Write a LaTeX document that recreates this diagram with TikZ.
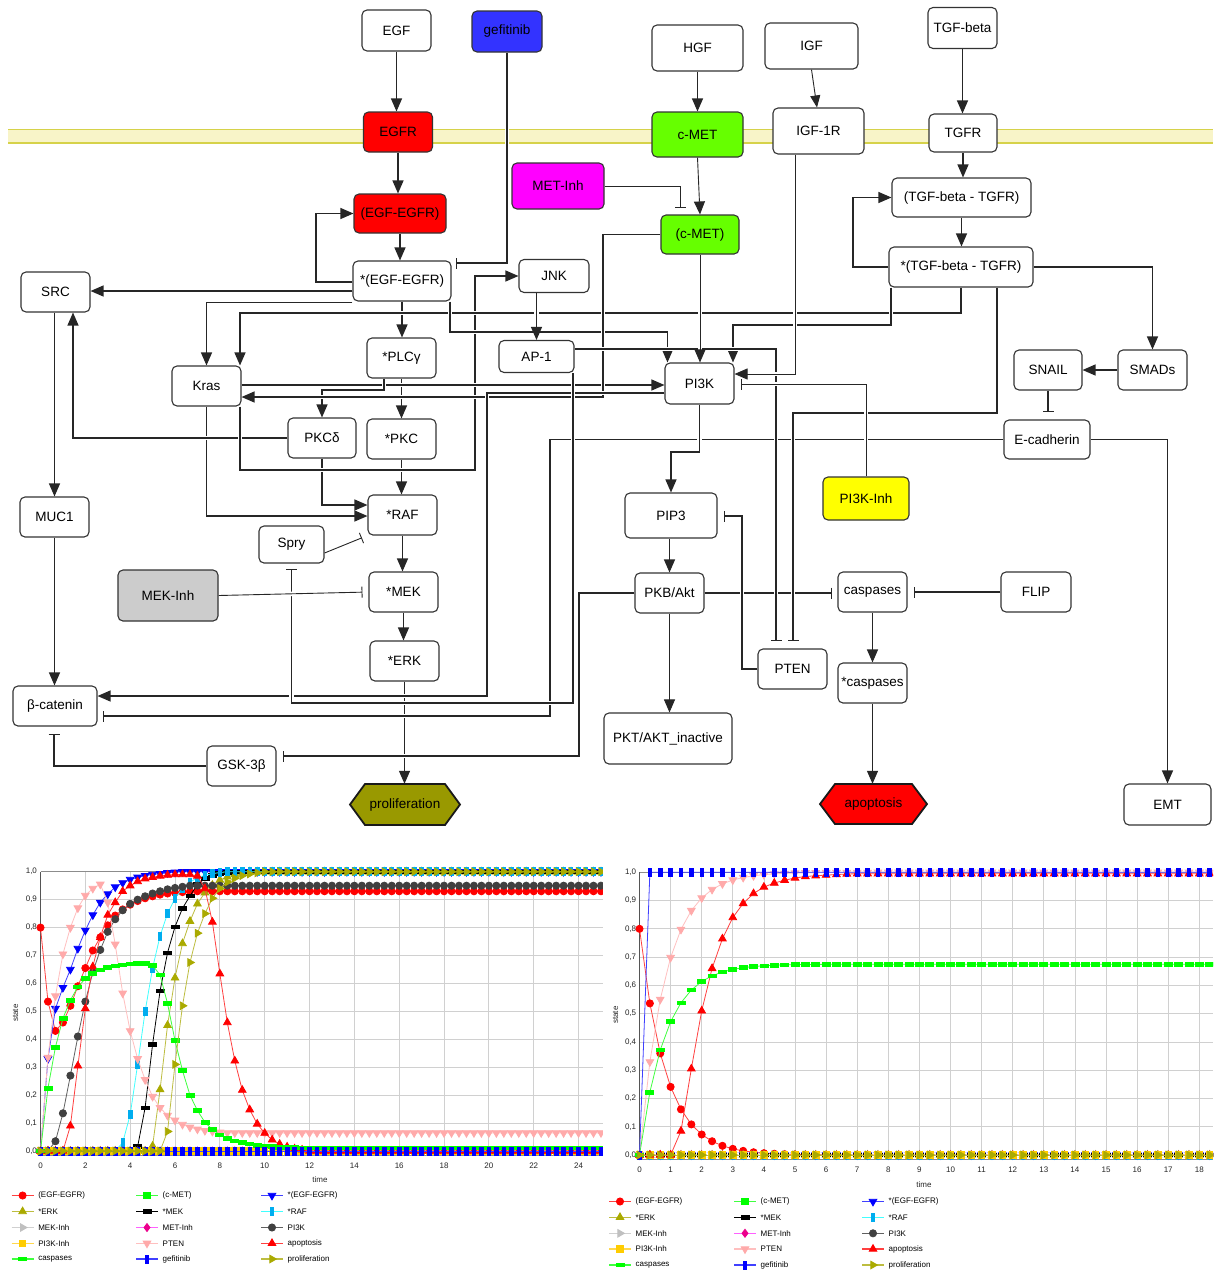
\documentclass[tikz,border=0pt]{standalone}
\usepackage{fontspec}
\setmainfont{Liberation Sans}
\usetikzlibrary{arrows.meta,calc,plotmarks}
\pgfdeclarelayer{bg}
\pgfdeclarelayer{edges}
\pgfsetlayers{bg,edges,main}

% flat and upright bar marks for the time-course plots
\pgfdeclareplotmark{hrect}{\pgfpathrectangle{\pgfqpoint{-4pt}{-1.8pt}}{\pgfqpoint{8pt}{3.6pt}}\pgfusepathqfillstroke}
\pgfdeclareplotmark{vrect}{\pgfpathrectangle{\pgfqpoint{-1.8pt}{-4pt}}{\pgfqpoint{3.6pt}{8pt}}\pgfusepathqfillstroke}

\definecolor{edgec}{HTML}{262626}
\definecolor{ndline}{HTML}{333333}
\definecolor{gefblue}{HTML}{3333FF}
\definecolor{egfred}{HTML}{FF0000}
\definecolor{metmag}{HTML}{FF00FF}
\definecolor{metgreen}{HTML}{66FF00}
\definecolor{mekgray}{HTML}{CCCCCC}
\definecolor{pikyel}{HTML}{FFFF00}
\definecolor{prolol}{HTML}{999900}
\definecolor{bandfill}{HTML}{F8F4C8}
\definecolor{bandline}{HTML}{D6D24A}
\definecolor{gridc}{HTML}{D0D0D0}
\definecolor{framec}{HTML}{8C8C8C}
\definecolor{axisc}{HTML}{555555}
\definecolor{lnred}{HTML}{FF4040}
\definecolor{lngreen}{HTML}{40FF40}
\definecolor{lnblue}{HTML}{4040FF}
\definecolor{lnolive}{HTML}{BDBD40}
\definecolor{lncyan}{HTML}{40FFFF}
\definecolor{lngray}{HTML}{D0D0D0}
\definecolor{lnmag}{HTML}{FF60FF}
\definecolor{lndgray}{HTML}{606060}
\definecolor{lnyel}{HTML}{FFD84D}
\definecolor{lnpink}{HTML}{FFBFBF}
\definecolor{mkolive}{HTML}{AAAA00}
\definecolor{mkgray}{HTML}{C0C0C0}
\definecolor{mkdgray}{HTML}{404040}
\definecolor{mkyel}{HTML}{FFCC00}
\definecolor{mkpink}{HTML}{FFAAAA}

\newcommand{\nodefont}{\fontsize{13.5}{15}\selectfont}
\newcommand{\tickfont}{\fontsize{8}{9}\selectfont}
\newcommand{\legfont}{\fontsize{8}{9}\selectfont}

\tikzset{
  nd/.style={draw=ndline, line width=1.1pt, rounded corners=5pt, fill=white, inner sep=0pt},
  hexa/.style={draw=black!90, line width=1.8pt},
  halo/.style={preaction={draw=white, line width=4.5pt, arrows=-}},
  arr/.style={draw=edgec, line width=1.2pt, halo, -{Triangle[length=13pt,width=11pt]}},
  thinarr/.style={arr, line width=0.9pt},
  inh/.style={draw=edgec, line width=1.2pt, halo, -{Bar[width=11pt]}, shorten >=5pt},
  thininh/.style={inh, line width=0.9pt},
  tick/.style={font=\tickfont, inner sep=0pt, text=black!85},
  ser/.style={line width=0.8pt, mark size=3.6pt},
  pEE/.style={ser, draw=lnred, mark=*, mark options={fill=red, draw=red}},
  pCMET/.style={ser, draw=lngreen, mark=square*, mark size=3.2pt, mark options={fill=green, draw=green}},
  pSEE/.style={ser, draw=lnblue, mark=triangle*, mark size=4.4pt, mark options={fill=blue, draw=blue, rotate=180}},
  pERK/.style={ser, draw=lnolive, mark=triangle*, mark size=4.4pt, mark options={fill=mkolive, draw=mkolive}},
  pMEK/.style={ser, draw=black, mark=hrect, mark options={fill=black, draw=black}},
  pRAF/.style={ser, draw=lncyan, mark=vrect, mark options={fill=cyan, draw=cyan}},
  pMEKI/.style={ser, draw=lngray, mark=triangle*, mark size=4.4pt, mark options={fill=mkgray, draw=mkgray, rotate=-90}},
  pMETI/.style={ser, draw=lnmag, mark=diamond*, mark size=4pt, mark options={fill=magenta, draw=magenta}},
  pPI3K/.style={ser, draw=lndgray, mark=*, mark options={fill=mkdgray, draw=mkdgray}},
  pPI3KI/.style={ser, draw=lnyel, mark=square*, mark size=3.2pt, mark options={fill=mkyel, draw=mkyel}},
  pPTEN/.style={ser, draw=lnpink, mark=triangle*, mark size=4.4pt, mark options={fill=mkpink, draw=mkpink, rotate=180}},
  pAPO/.style={ser, draw=lnred, mark=triangle*, mark size=4.4pt, mark options={fill=red, draw=red}},
  pCASP/.style={ser, draw=lngreen, mark=hrect, mark options={fill=green, draw=green}},
  pGEF/.style={ser, draw=lnblue, mark=vrect, mark options={fill=blue, draw=blue}},
  pPROL/.style={ser, draw=lnolive, mark=triangle*, mark size=4.4pt, mark options={fill=mkolive, draw=mkolive, rotate=-90}},
}

% one legend entry: x, y, series style, label, node name
\newcommand{\lgitem}[5]{%
  \draw[#3, line width=1.3pt] (#1-11,#2) -- (#1+11,#2);
  \draw[#3] plot[only marks] coordinates {(#1,#2)};
  \node[anchor=west, inner sep=0pt, font=\legfont] (#5) at (#1+15.5,#2) {#4};
}

\begin{document}
\begin{tikzpicture}[x=1pt, y=-1pt, font=\nodefont]
\useasboundingbox (0,0) rectangle (1215,1270);

\begin{pgfonlayer}{bg}
  \fill[white] (0,0) rectangle (1215,1270);
  % cell membrane
  \fill[bandfill] (8,129.5) rectangle (1213,143);
  \draw[bandline, line width=1.6pt] (8,129.5) -- (1213,129.5) (8,143) -- (1213,143);
\end{pgfonlayer}

% ---------------- network nodes ----------------
\node[nd, minimum width=69pt, minimum height=41pt] (egf) at (396.5,30.5) {EGF};
\node[nd, fill=gefblue, minimum width=70pt, minimum height=41pt] (gef) at (507,31.5) {gefitinib};
\node[nd, fill=egfred, minimum width=69pt, minimum height=40pt] (egfr) at (398,132) {EGFR};
\node[nd, fill=egfred, minimum width=92pt, minimum height=39pt] (ee) at (400,213.5) {(EGF-EGFR)};
\node[nd, minimum width=98pt, minimum height=40pt] (see) at (402,281) {*(EGF-EGFR)};
\node[nd, minimum width=69pt, minimum height=40pt] (src) at (55.5,292) {SRC};
\node[nd, minimum width=70pt, minimum height=33pt] (jnk) at (554,276) {JNK};
\node[nd, fill=metmag, minimum width=92pt, minimum height=46pt] (metinh) at (558,186) {MET-Inh};
\node[nd, minimum width=91pt, minimum height=46pt] (hgf) at (697.5,48) {HGF};
\node[nd, fill=metgreen, minimum width=91pt, minimum height=45pt] (cmet) at (697.5,134.5) {c-MET};
\node[nd, fill=metgreen, minimum width=78pt, minimum height=39pt] (cmet2) at (700,234.5) {(c-MET)};
\node[nd, minimum width=93pt, minimum height=46pt] (igf) at (811.5,46) {IGF};
\node[nd, minimum width=91pt, minimum height=46pt] (igf1r) at (818.5,131) {IGF-1R};
\node[nd, minimum width=69pt, minimum height=41pt] (tgfb) at (962.5,28) {TGF-beta};
\node[nd, minimum width=68pt, minimum height=38pt] (tgfr) at (963,133) {TGFR};
\node[nd, minimum width=139pt, minimum height=39pt] (tt) at (961.5,197.5) {(TGF-beta - TGFR)};
\node[nd, minimum width=144pt, minimum height=40pt] (stt) at (961,267) {*(TGF-beta - TGFR)};
\node[nd, minimum width=68pt, minimum height=40pt] (snail) at (1048,370) {SNAIL};
\node[nd, minimum width=69pt, minimum height=40pt] (smads) at (1152.5,370) {SMADs};
\node[nd, minimum width=69pt, minimum height=41pt] (pi3k) at (699.5,383.5) {PI3K};
\node[nd, minimum width=75pt, minimum height=32pt] (ap1) at (536.5,356.5) {AP-1};
\node[nd, minimum width=69pt, minimum height=40pt] (plc) at (401.5,358) {*PLCγ};
\node[nd, minimum width=69pt, minimum height=40pt] (kras) at (206.5,386) {Kras};
\node[nd, minimum width=68pt, minimum height=40pt] (pkcd) at (322,438) {PKCδ};
\node[nd, minimum width=69pt, minimum height=40pt] (pkc) at (401.5,439) {*PKC};
\node[nd, minimum width=69pt, minimum height=40pt] (muc1) at (54.5,517) {MUC1};
\node[nd, minimum width=69pt, minimum height=40pt] (raf) at (402.5,515) {*RAF};
\node[nd, minimum width=65pt, minimum height=37pt] (spry) at (291.5,544.5) {Spry};
\node[nd, fill=mekgray, minimum width=100pt, minimum height=51pt] (mekinh) at (168,595.5) {MEK-Inh};
\node[nd, minimum width=69pt, minimum height=40pt] (mek) at (403.5,592) {*MEK};
\node[nd, minimum width=69pt, minimum height=40pt] (erk) at (404.5,661) {*ERK};
\node[nd, minimum width=84pt, minimum height=40pt] (bcat) at (55,706) {β-catenin};
\node[nd, minimum width=69pt, minimum height=40pt] (gsk) at (241.5,766) {GSK-3β};
\node[nd, minimum width=86pt, minimum height=39pt] (ecad) at (1047,439.5) {E-cadherin};
\node[nd, fill=pikyel, minimum width=86pt, minimum height=43pt] (pi3kinh) at (866,498.5) {PI3K-Inh};
\node[nd, minimum width=92pt, minimum height=45pt] (pip3) at (671,515.5) {PIP3};
\node[nd, minimum width=69pt, minimum height=40pt] (pkb) at (669.5,593) {PKB/Akt};
\node[nd, minimum width=69pt, minimum height=40pt] (casp) at (872.5,592) {caspases};
\node[nd, minimum width=70pt, minimum height=40pt] (flip) at (1036,592) {FLIP};
\node[nd, minimum width=69pt, minimum height=40pt] (pten) at (792.5,669) {PTEN};
\node[nd, minimum width=69pt, minimum height=40pt] (scasp) at (872.5,683) {*caspases};
\node[nd, minimum width=128pt, minimum height=51pt] (pktin) at (668,738.5) {PKT/AKT\_inactive};
\node[nd, minimum width=87pt, minimum height=41pt] (emt) at (1167.5,804.5) {EMT};

% phenotype hexagons
\draw[hexa, fill=prolol] (350,804.5) -- (365,784) -- (445,784) -- (460,804.5) -- (445,825) -- (365,825) -- cycle;
\node[inner sep=0pt, minimum width=110pt, minimum height=41pt] (prolif) at (405,804.5) {proliferation};
\draw[hexa, fill=red] (820,804) -- (835,784) -- (912,784) -- (927,804) -- (912,824) -- (835,824) -- cycle;
\node[inner sep=0pt, minimum width=107pt, minimum height=40pt] (apop) at (873.5,804) {apoptosis};

% ---------------- connectors ----------------
\begin{pgfonlayer}{edges}
  % central MAPK column
  \draw[arr] (see.south) -- (see.south |- plc.north);
  \draw[arr] (plc.south) -- (plc.south |- pkc.north);
  \draw[arr] (pkc.south) -- (pkc.south |- raf.north);
  \draw[arr] (erk.south) -- (erk.south |- prolif.north);
  \draw[arr] (pkcd.south) |- (raf.west |- 0,505);
  \draw[arr] (kras.south) |- (raf.west |- 0,516);
  % long-range links
  \draw[inh] (ecad.west) -- (550,439.5) -- (550,716) -- (bcat.east |- 0,716);
  \draw[inh] (pkb.east) -- (casp.west |- pkb.east);
  \draw[arr] (pkcd.west) -| (src.south -| 73,0);
  \draw[arr] (kras.south east -| 240,0) |- (475,470) |- (jnk.west);
  \draw[arr] (stt.south) |- (240,313) -- (kras.north east -| 240,0);
  \draw[arr] (stt.south west -| 891,0) |- (733,325) -- (pi3k.north east -| 733,0);
  \draw[arr] (see.south east -| 450,0) |- (667.5,332) -- (pi3k.north west -| 667.5,0);
  \draw[arr] (kras.east |- 0,385) -- (pi3k.west |- 0,385);
  \draw[arr] (plc.south -| 384,0) |- (pkcd.north |- 0,390) -- (pkcd.north);
  \draw[arr] (cmet2.west) -- (603,234.5) -- (603,397) -- (kras.east |- 0,397);
  \draw[arr] (pi3k.west |- 0,393) -- (487,393) -- (487,696) -- (bcat.east |- 0,696);
  \draw[inh] (ap1.south -| 573,0) -- (573,703) -| (spry.south);
  \draw[inh, shorten >=7pt] (ap1.east |- 0,349) -| (pten.north -| 776,0);
  \draw[inh, shorten >=7pt] (stt.south -| 997,0) |- (793,413) -- (pten.north -| 793,0);
  \draw[inh, shorten >=6pt] (pkb.west) -- (579,593) |- (gsk.east |- 0,756);
  \draw[inh, shorten >=6pt] (pten.west) -- (742,669) |- (pip3.east |- 0,516);
  \draw[inh, shorten >=7pt] (gsk.west) -| (bcat.south -| 54,0);
  % EGF receptor
  \draw[arr] (egf.south) -- (egf.south |- egfr.north);
  \draw[arr] (egfr.south) -- (egfr.south |- ee.north);
  \draw[arr] (ee.south) -- (ee.south |- see.north);
  \draw[arr] (see.west |- 0,282) -- (316,282) -- (316,213.5) -- (ee.west);
  \draw[inh, shorten >=4pt] (gef.south) -- (gef.south |- 0,263) -- (see.east |- 0,263);
  \draw[arr] (see.west |- 0,291) -- (src.east |- 0,291);
  \draw[arr] (see.south west |- 0,302.5) -| (kras.north);
  % SRC branch
  \draw[arr] (muc1.north |- src.south) -- (muc1.north);
  \draw[arr] (muc1.south) -- (muc1.south |- bcat.north);
  % RAF / MEK / ERK
  \draw[arr] (ap1.north |- jnk.south) -- (ap1.north);
  \draw[arr] (raf.south) -- (raf.south |- mek.north);
  \draw[arr] (mek.south) -- (mek.south |- erk.north);
  \draw[thininh, shorten >=6pt] (mekinh.east) -- (mek.west);
  \draw[thininh, shorten >=6pt] (spry.east |- 0,553) -- (raf.south west);
  % HGF / IGF
  \draw[arr] (hgf.south) -- (cmet.north);
  \draw[thinarr] (cmet.south) -- (cmet2.north);
  \draw[thinarr] (cmet2.south) -- (cmet2.south |- pi3k.north);
  \draw[thininh, shorten >=7pt] (metinh.east) -| (cmet2.north -| 680,0);
  \draw[thinarr, -{Triangle[length=12pt,width=10pt]}] (igf.south) -- (igf1r.north -| 817,0);
  \draw[thinarr] (igf1r.south -| 795,0) |- (pi3k.east |- 0,374);
  \draw[thininh, shorten >=6pt] (pi3kinh.north) |- (pi3k.east |- 0,384);
  % PI3K / AKT
  \draw[arr] (pi3k.south) |- (pip3.north |- 0,452) -- (pip3.north);
  \draw[arr] (pkb.north |- pip3.south) -- (pkb.north);
  \draw[thinarr] (pkb.south) -- (pkb.south |- pktin.north);
  % TGF-beta
  \draw[arr] (tgfb.south) -- (tgfb.south |- tgfr.north);
  \draw[arr] (tgfr.south) -- (tgfr.south |- tt.north);
  \draw[arr] (tt.south) -- (tt.south |- stt.north);
  \draw[arr] (stt.west) -- (853,267) |- (tt.west);
  \draw[arr] (stt.east) -| (smads.north);
  \draw[arr] (smads.west) -- (snail.east);
  \draw[inh, shorten >=7pt] (snail.south) -- (snail.south |- ecad.north);
  \draw[arr] (ecad.east) -| (emt.north);
  % apoptosis
  \draw[arr] (casp.south) -- (casp.south |- scasp.north);
  \draw[arr] (scasp.south) -- (scasp.south |- apop.north);
  \draw[inh, shorten >=6pt] (flip.west) -- (casp.east |- flip.west);
\end{pgfonlayer}

% ---------------- time course, left ----------------
\begin{scope}[xshift=40.5pt, yshift=-1151pt, x=7.473pt, y=279.3pt]
  \foreach \k in {0,...,10} \draw[gridc, line width=0.8pt] (0,\k/10) -- (75.27,\k/10);
  \foreach \i in {6,12,...,72} \draw[gridc, line width=0.8pt] (\i,-0.015) -- (\i,1);
  \draw[framec, line width=0.9pt] (0,1) -- (75.27,1) (0,-0.015) -- (75.27,-0.015);
  \draw[axisc, line width=1.1pt] (0,-0.015) -- (0,1);
  \foreach \k in {0,...,9} \node[tick, anchor=east] (ly\k) at (-0.45,\k/10) {0,\k};
  \node[tick, anchor=east] (ly10) at (-0.45,1) {1,0};
  \foreach \t in {0,2,...,24} \node[tick] (lx\t) at (3*\t,-0.054) {\t};
  \begin{scope}
    \clip (-3,-0.1) rectangle (75.27,1.1);
    \draw[pEE] plot coordinates {(0,0.80)(1,0.535)(2,0.43)(3,0.46)(4,0.52)(5,0.59)(6,0.655)(7,0.718)(8,0.765)(9,0.808)(10,0.843)(11,0.865)(12,0.882)(13,0.895)(14,0.905)(15,0.912)(16,0.918)(17,0.922)(18,0.925)(19,0.927)(20,0.929)} -- plot[domain=21:75, samples=55] (\x,0.93);
    \draw[pSEE] plot coordinates {(0,0)(1,0.33)(2,0.51)(3,0.585)(4,0.65)(5,0.725)(6,0.79)(7,0.845)(8,0.89)(9,0.92)(10,0.945)(11,0.96)(12,0.972)(13,0.98)(14,0.986)(15,0.99)(16,0.993)(17,0.996)(18,0.998)} -- plot[domain=19:75, samples=57] (\x,1);
    \draw[pERK] plot[domain=0:14, samples=15] (\x,0) -- plot coordinates {(15,0.018)(16,0.22)(17,0.45)(18,0.62)(19,0.743)(20,0.823)(21,0.885)(22,0.925)(23,0.952)(24,0.97)(25,0.982)(26,0.99)(27,0.995)} -- plot[domain=28:75, samples=48] (\x,1);
    \draw[pMEK] plot[domain=0:12, samples=13] (\x,0) -- plot coordinates {(13,0.016)(14,0.155)(15,0.382)(16,0.573)(17,0.71)(18,0.803)(19,0.869)(20,0.913)(21,0.955)(22,0.975)(23,0.987)(24,0.994)(25,0.998)} -- plot[domain=26:75, samples=50] (\x,1);
    \draw[pRAF] plot[domain=0:10, samples=11] (\x,0) -- plot coordinates {(11,0.03)(12,0.13)(13,0.31)(14,0.5)(15,0.655)(16,0.77)(17,0.85)(18,0.905)(19,0.94)(20,0.963)(21,0.978)(22,0.987)(23,0.993)(24,0.997)} -- plot[domain=25:75, samples=51] (\x,1);
    \draw[pMEKI] plot[domain=0:75, samples=76] (\x,0);
    \draw[pMETI] plot[domain=0:75, samples=76] (\x,0);
    \draw[pPI3K] plot coordinates {(0,0)(1,0)(2,0.035)(3,0.135)(4,0.27)(5,0.41)(6,0.535)(7,0.64)(8,0.72)(9,0.785)(10,0.83)(11,0.862)(12,0.885)(13,0.9)(14,0.912)(15,0.922)(16,0.93)(17,0.937)(18,0.942)(19,0.946)} -- plot[domain=20:75, samples=56] (\x,0.95);
    \draw[pPI3KI] plot[domain=0:75, samples=76] (\x,0);
    \draw[pPTEN] plot coordinates {(0,0)(1,0.335)(2,0.555)(3,0.705)(4,0.8)(5,0.87)(6,0.915)(7,0.94)(8,0.955)(9,0.89)(10,0.74)(11,0.565)(12,0.43)(13,0.33)(14,0.255)(15,0.195)(16,0.155)(17,0.127)(18,0.11)(19,0.095)(20,0.085)(21,0.078)(22,0.073)(23,0.07)(24,0.067)} -- plot[domain=25:75, samples=51] (\x,0.065);
    \draw[pAPO] plot[domain=0:3, samples=4] (\x,0) -- plot coordinates {(4,0.09)(5,0.305)(6,0.51)(7,0.66)(8,0.765)(9,0.845)(10,0.89)(11,0.93)(12,0.95)(13,0.965)(14,0.975)(15,0.98)(16,0.985)(17,0.988)(18,0.99)(19,0.99)(20,0.99)(21,0.985)(22,0.94)(23,0.82)(24,0.635)(25,0.46)(26,0.323)(27,0.218)(28,0.148)(29,0.097)(30,0.064)(31,0.04)(32,0.025)(33,0.015)(34,0.008)(35,0.004)} -- plot[domain=36:75, samples=40] (\x,0);
    \draw[pCASP] plot coordinates {(0,0)(1,0.225)(2,0.372)(3,0.475)(4,0.54)(5,0.588)(6,0.617)(7,0.636)(8,0.648)(9,0.657)(10,0.663)(11,0.667)(12,0.67)(13,0.672)(14,0.672)(15,0.665)(16,0.63)(17,0.528)(18,0.395)(19,0.288)(20,0.2)(21,0.145)(22,0.103)(23,0.077)(24,0.058)(25,0.045)(26,0.036)(27,0.03)(28,0.025)(29,0.021)(30,0.018)(31,0.016)(32,0.014)(33,0.013)(34,0.012)} -- plot[domain=35:75, samples=41] (\x,0.011);
    \draw[pGEF] plot[domain=0:75, samples=76] (\x,0);
    \draw[pPROL] plot[domain=0:16, samples=17] (\x,0) -- plot coordinates {(17,0.07)(18,0.31)(19,0.52)(20,0.675)(21,0.78)(22,0.85)(23,0.905)(24,0.94)(25,0.963)(26,0.977)(27,0.986)(28,0.992)(29,0.996)} -- plot[domain=30:75, samples=46] (\x,1);
  \end{scope}
\end{scope}
\node[tick, rotate=90] (lstate) at (15.5,1013) {state};
\node[tick] (ltime) at (320,1180) {time};

% ---------------- time course, right ----------------
\begin{scope}[xshift=639.5pt, yshift=-1155pt, x=10.367pt, y=282.7pt]
  \foreach \k in {0,...,10} \draw[gridc, line width=0.8pt] (0,\k/10) -- (55.32,\k/10);
  \foreach \i in {3,6,...,54} \draw[gridc, line width=0.8pt] (\i,-0.015) -- (\i,1);
  \draw[framec, line width=0.9pt] (0,1) -- (55.32,1) (0,-0.015) -- (55.32,-0.015);
  \draw[axisc, line width=1.1pt] (0,-0.015) -- (0,1);
  \foreach \k in {0,...,9} \node[tick, anchor=east] (ry\k) at (-0.3,\k/10) {0,\k};
  \node[tick, anchor=east] (ry10) at (-0.3,1) {1,0};
  \foreach \t in {0,...,18} \node[tick] (rx\t) at (3*\t,-0.053) {\t};
  \begin{scope}
    \clip (-3,-0.1) rectangle (55.32,1.1);
    \draw[pEE] plot[domain=0:55, samples=56] (\x,{0.8*exp(max(-0.4*\x,-9))});
    \draw[pSEE] plot[domain=0:55, samples=56] (\x,0);
    \draw[pERK] plot[domain=0:55, samples=56] (\x,0);
    \draw[pMEK] plot[domain=0:55, samples=56] (\x,0);
    \draw[pRAF] plot[domain=0:55, samples=56] (\x,0);
    \draw[pMEKI] plot[domain=0:55, samples=56] (\x,0);
    \draw[pMETI] plot[domain=0:55, samples=56] (\x,0);
    \draw[pPI3K] plot[domain=0:55, samples=56] (\x,0);
    \draw[pPI3KI] plot[domain=0:55, samples=56] (\x,0);
    \draw[pPTEN] plot[domain=0:55, samples=56] (\x,{1-exp(max(-0.4*\x,-9))});
    \draw[pAPO] plot[domain=0:3, samples=4] (\x,0) -- plot coordinates {(4,0.085)(5,0.305)(6,0.51)(7,0.66)(8,0.765)(9,0.84)(10,0.89)(11,0.925)(12,0.948)(13,0.962)(14,0.972)(15,0.98)(16,0.985)(17,0.988)(18,0.99)(19,0.992)(20,0.994)} -- plot[domain=21:55, samples=35] (\x,0.995);
    \draw[pCASP] plot[domain=0:55, samples=56] (\x,{0.675*(1-exp(max(-0.4*\x,-9)))});
    \draw[pGEF] plot coordinates {(0,0)} -- plot[domain=1:55, samples=55] (\x,1);
    \draw[pPROL] plot[domain=0:55, samples=56] (\x,0);
  \end{scope}
\end{scope}
\node[tick, rotate=90] (rstate) at (615.5,1015) {state};
\node[tick] (rtime) at (924,1185) {time};

% ---------------- legends ----------------
\lgitem{22.6}{1195.5}{pEE}{(EGF-EGFR)}{lg1}
\lgitem{147}{1195.5}{pCMET}{(c-MET)}{lg2}
\lgitem{272}{1195.5}{pSEE}{*(EGF-EGFR)}{lg3}
\lgitem{22.6}{1211.5}{pERK}{*ERK}{lg4}
\lgitem{147}{1211.5}{pMEK}{*MEK}{lg5}
\lgitem{272}{1211.5}{pRAF}{*RAF}{lg6}
\lgitem{22.6}{1227.5}{pMEKI}{MEK-Inh}{lg7}
\lgitem{147}{1227.5}{pMETI}{MET-Inh}{lg8}
\lgitem{272}{1227.5}{pPI3K}{PI3K}{lg9}
\lgitem{22.6}{1243.3}{pPI3KI}{PI3K-Inh}{lg10}
\lgitem{147}{1243.3}{pPTEN}{PTEN}{lg11}
\lgitem{272}{1243.3}{pAPO}{apoptosis}{lg12}
\lgitem{22.6}{1259}{pCASP}{caspases}{lg13}
\lgitem{147}{1259}{pGEF}{gefitinib}{lg14}
\lgitem{272}{1259}{pPROL}{proliferation}{lg15}

\lgitem{620}{1201.5}{pEE}{(EGF-EGFR)}{rg1}
\lgitem{745}{1201.5}{pCMET}{(c-MET)}{rg2}
\lgitem{873}{1201.5}{pSEE}{*(EGF-EGFR)}{rg3}
\lgitem{620}{1217.3}{pERK}{*ERK}{rg4}
\lgitem{745}{1217.3}{pMEK}{*MEK}{rg5}
\lgitem{873}{1217.3}{pRAF}{*RAF}{rg6}
\lgitem{620}{1233.3}{pMEKI}{MEK-Inh}{rg7}
\lgitem{745}{1233.3}{pMETI}{MET-Inh}{rg8}
\lgitem{873}{1233.3}{pPI3K}{PI3K}{rg9}
\lgitem{620}{1249}{pPI3KI}{PI3K-Inh}{rg10}
\lgitem{745}{1249}{pPTEN}{PTEN}{rg11}
\lgitem{873}{1249}{pAPO}{apoptosis}{rg12}
\lgitem{620}{1265}{pCASP}{caspases}{rg13}
\lgitem{745}{1265}{pGEF}{gefitinib}{rg14}
\lgitem{873}{1265}{pPROL}{proliferation}{rg15}
\end{tikzpicture}
\end{document}
